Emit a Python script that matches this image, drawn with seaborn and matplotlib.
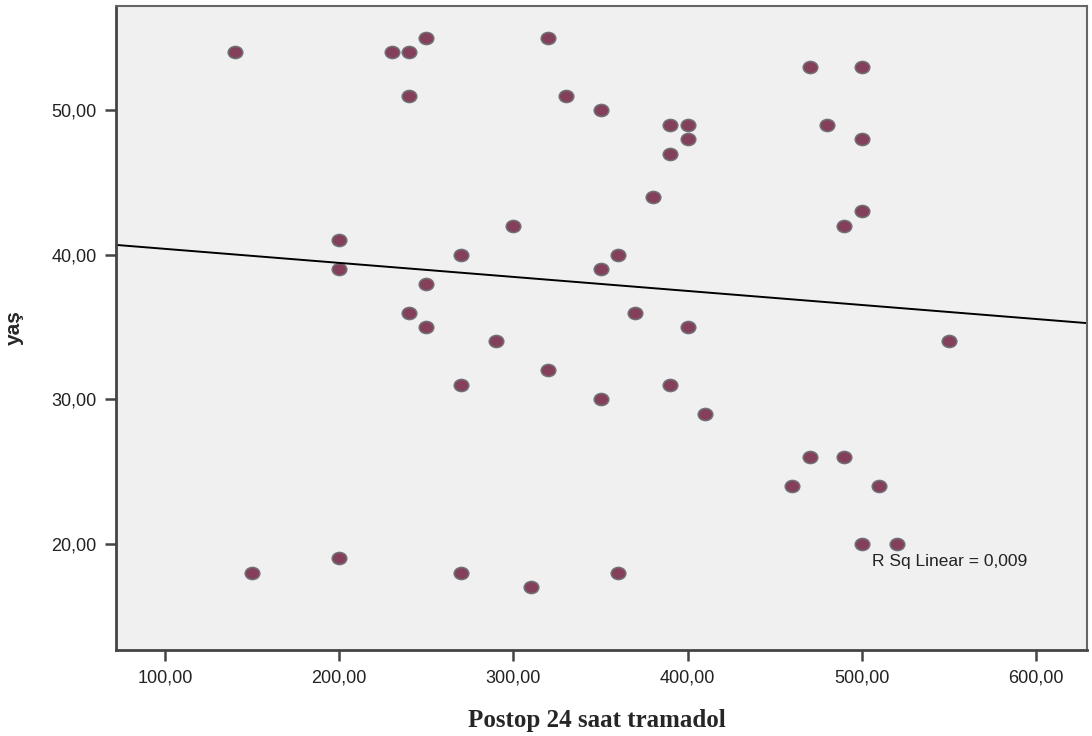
import pandas as pd
import matplotlib
matplotlib.use("Agg")
import matplotlib.pyplot as plt
from matplotlib.path import Path
from matplotlib.transforms import Affine2D
import seaborn as sns

# Postop 24 saat tramadol vs yaş
tramadol = [140, 230, 240, 250, 240, 320, 330, 350, 390, 400, 390, 400,
            380, 470, 500, 480, 500, 500, 490, 300, 200, 200, 270, 360,
            350, 250, 240, 250, 370, 400, 290, 550, 270, 320, 350, 390,
            410, 470, 490, 460, 510, 500, 520, 150, 200, 270, 310, 360]
yas = [54, 54, 54, 55, 51, 55, 51, 50, 49, 49, 47, 48,
       44, 53, 53, 49, 48, 43, 42, 42, 41, 39, 40, 40,
       39, 38, 36, 35, 36, 35, 34, 34, 31, 32, 30, 31,
       29, 26, 26, 24, 24, 20, 20, 18, 19, 18, 17, 18]
xticks = [100, 200, 300, 400, 500, 600]
yticks = [20, 30, 40, 50]

df = pd.DataFrame({"tramadol": tramadol, "yas": yas})

sns.set_style("ticks")
plt.rcParams["font.family"] = ["Liberation Sans", "DejaVu Sans"]

# SPSS points are slightly wider than tall
ellipse = Path.unit_circle().transformed(Affine2D().scale(1.2, 1.0))

fig = plt.figure(figsize=(10.92, 7.36), dpi=100)
ax = fig.add_axes([0.1062, 0.1168, 0.8892, 0.875])
ax.set_facecolor("#f0f0f0")
ax.set_xlim(71.8, 629.3)
ax.set_ylim(12.66, 57.2)

sns.regplot(data=df, x="tramadol", y="yas", ax=ax, ci=None, truncate=False,
            marker=ellipse,
            scatter_kws={"s": 110, "color": "#84405a", "edgecolors": "#707076",
                         "linewidths": 1.1, "alpha": 1},
            line_kws={"color": "black", "lw": 1.4})

ax.set_xlim(71.8, 629.3)
ax.set_ylim(12.66, 57.2)
ax.set_xticks(xticks)
ax.set_yticks(yticks)
ax.set_xticklabels([f"{v:.2f}".replace(".", ",") for v in xticks], fontsize=13, color="#222222")
ax.set_yticklabels([f"{v:.2f}".replace(".", ",") for v in yticks], fontsize=13, color="#222222")
ax.tick_params(direction="out", length=8, width=1.8, color="#444444", pad=6)

for side in ["left", "bottom"]:
    ax.spines[side].set_linewidth(2)
    ax.spines[side].set_color("#444444")
for side in ["top", "right"]:
    ax.spines[side].set_visible(True)
    ax.spines[side].set_linewidth(1.5)
    ax.spines[side].set_color("#666666")

ax.set_xlabel("Postop 24 saat tramadol", fontsize=18, fontweight="bold",
              family=["Liberation Serif", "DejaVu Serif"])
ax.xaxis.set_label_coords(0.495, -0.092)
ax.set_ylabel("yaş", fontsize=15, fontweight="bold", labelpad=20)

ax.text(0.779, 0.137, "R Sq Linear = 0,009", transform=ax.transAxes,
        fontsize=12.5, color="#222222", va="center", ha="left")

fig.savefig("out.png", dpi=100, facecolor="white")
